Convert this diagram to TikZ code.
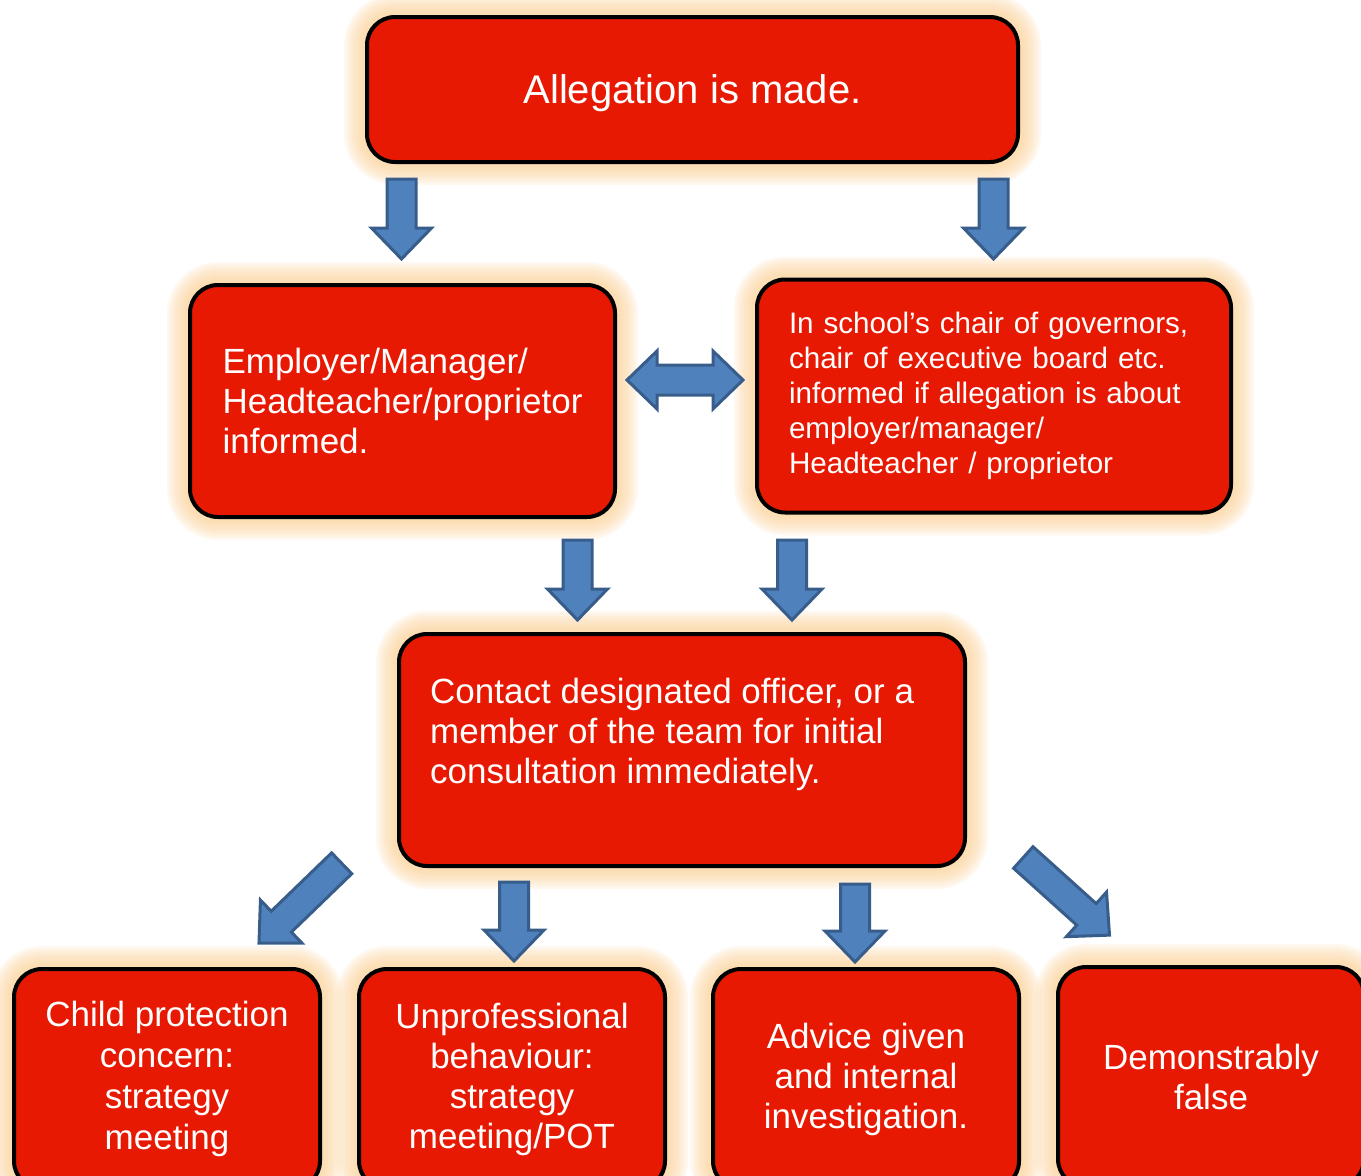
\documentclass[tikz,border=0pt]{standalone}
\usepackage{fontspec}
\setmainfont{Liberation Sans}
\usetikzlibrary{positioning}

\definecolor{cardred}{RGB}{232,25,2}
\definecolor{glowpeach}{RGB}{251,208,150}
\definecolor{arrowblue}{RGB}{79,129,189}
\definecolor{arrowedge}{RGB}{56,93,138}

\tikzset{
  glowring/.style={preaction={draw=glowpeach,line width=#1,opacity=0.14}},
  card/.style={rectangle,rounded corners=28pt,draw=black,line width=4pt,
    fill=cardred,text=white,inner sep=0pt,
    glowring=46pt,glowring=41pt,glowring=36pt,glowring=31pt,
    glowring=26pt,glowring=21pt,glowring=16pt,glowring=11pt},
  bigtext/.style={font=\fontsize{35}{40}\selectfont},
  arrowbody/.style={fill=arrowblue,draw=arrowedge,line width=3pt,line join=miter},
  pics/blockdown/.style={code={
    \draw[arrowbody] (-14.5,0) -- (-14.5,#1-31) -- (-30,#1-31) -- (0,#1)
      -- (30,#1-31) -- (14.5,#1-31) -- (14.5,0) -- cycle;
  }},
  pics/twinarrow/.style={code={
    \draw[arrowbody] (-58,0) -- (-28,-29) -- (-28,-15) -- (28,-15) -- (28,-29)
      -- (58,0) -- (28,29) -- (28,15) -- (-28,15) -- (-28,29) -- cycle;
  }},
}

\begin{document}
\begin{tikzpicture}[x=1pt,y=-1pt]
\useasboundingbox (0,0) rectangle (1361,1176);

% Top
\node[card,minimum width=651,minimum height=145,text depth=0pt,font=\fontsize{40}{46}\selectfont] (allegation) at (692.5,89.5) {Allegation is made.};

% Second level
\node[card,bigtext,minimum width=425,minimum height=232,align=left] (employer) at (402.5,401)
  {Employer/Manager/\\Headteacher/proprietor\\informed.};
\node[card,minimum width=474,minimum height=233,inner xsep=32pt,text width=410pt,align=left,
  font=\fontsize{29.6}{35}\selectfont] (chair) at (994,396)
  {In school’s chair of governors,\\chair of executive board etc.\\informed if allegation is about\\employer/manager/\\Headteacher / proprietor};

% Consultation
\node[card,minimum width=566,minimum height=232] (consult) at (682,750) {};
\node[bigtext,text=white,align=left,inner sep=0pt,anchor=north west] (consulttext) at (430,678)
  {Contact designated officer, or a\\member of the team for initial\\consultation immediately.};

% Outcomes
\node[card,minimum width=306,minimum height=220,align=center,font=\fontsize{35}{41}\selectfont] (protection) at (167,1079)
  {Child protection\\concern:\\strategy\\meeting};
\node[card,minimum width=306,minimum height=220,align=center,font=\fontsize{35}{40}\selectfont] (unprof) at (512,1079)
  {Unprofessional\\behaviour:\\strategy\\meeting/POT};
\node[card,bigtext,minimum width=306,minimum height=220,align=center] (advice) at (866,1079)
  {Advice given\\and internal\\investigation.};
\node[card,bigtext,minimum width=306,minimum height=220,align=center] (falsebox) at (1211,1077)
  {Demonstrably\\false};

% Block arrows
\pic at (401.5,179) {blockdown=80};
\pic at (993.5,179) {blockdown=80};
\pic at (685,380) {twinarrow};
\pic at (577.5,540) {blockdown=80};
\pic at (792,540) {blockdown=80};
\pic[rotate=-46] at (341.7,863.3) {blockdown=115};
\pic at (514,882) {blockdown=79};
\pic at (855,884) {blockdown=78};
\pic[rotate=48] at (1023.3,857.5) {blockdown=116};
\end{tikzpicture}
\end{document}
